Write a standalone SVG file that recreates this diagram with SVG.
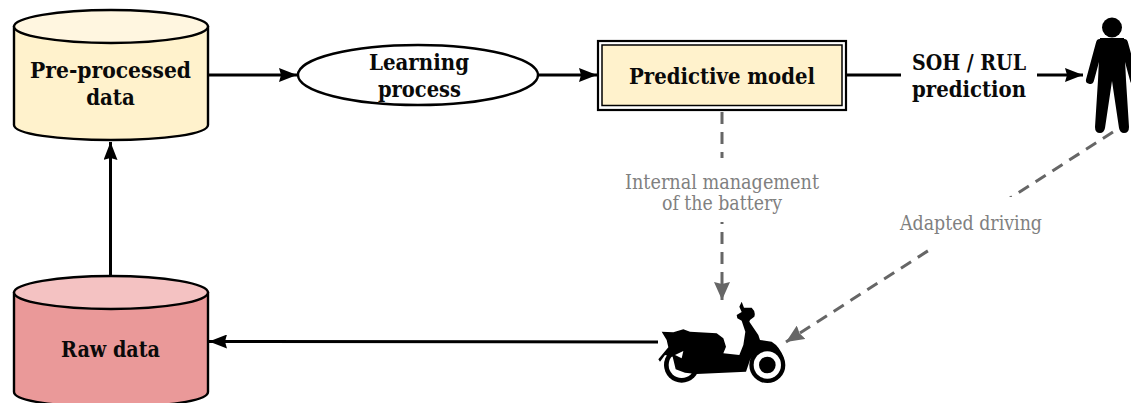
<svg xmlns="http://www.w3.org/2000/svg" width="1131" height="403" viewBox="0 0 1131 403">
<style>
text{font-family:"DejaVu Serif Condensed","DejaVu Serif","Liberation Serif",serif;text-anchor:middle}
.b{font-size:22px;font-weight:700;fill:#0a0a0a}
.g{font-size:19.500px;fill:#808080}
.s{stroke:#000;stroke-width:2.400}
.c{fill:none;stroke:#000;stroke-width:3}
.d{fill:none;stroke:#666;stroke-width:3;stroke-dasharray:12 8}
.k{fill:#000;stroke:none}
</style>
<defs>
<marker id="a" markerUnits="userSpaceOnUse" markerWidth="20" markerHeight="14" refX="18" refY="7" orient="auto"><path d="M0 0L18 7L0 14L2 7Z" fill="#000"/></marker>
<marker id="g" markerUnits="userSpaceOnUse" markerWidth="20" markerHeight="16" refX="18" refY="8" orient="auto"><path d="M0 0L18 8L0 16L2 8Z" fill="#666"/></marker>
</defs>
<rect width="1131" height="403" fill="#fff"/>
<g id="connectors">
<path class="c" d="M209 75H297" marker-end="url(#a)"/>
<path class="c" d="M538 75H597" marker-end="url(#a)"/>
<path class="c" d="M847 75H1083" marker-end="url(#a)"/>
<path class="c" d="M110.500 277V142" marker-end="url(#a)"/>
<path class="c" d="M658 342L209 341.500" marker-end="url(#a)"/>
<path class="d" d="M722 112V300" marker-end="url(#g)"/>
<path class="d" d="M1113 132L786 342" marker-end="url(#g)"/>
</g>
<g id="pre-processed">
<path class="s" fill="#fff2cc" d="M14 27V125C14 134 58 140 111 140S208 134 208 125V27Z"/>
<ellipse class="s" cx="111" cy="26.500" rx="97" ry="16.500" fill="#fff6e0"/>
<text class="b" x="110.500" y="78" textLength="161" lengthAdjust="spacingAndGlyphs">Pre-processed</text>
<text class="b" x="110.500" y="105">data</text>
</g>
<g id="learning">
<ellipse class="s" cx="418" cy="75" rx="120" ry="30" fill="#fff"/>
<text class="b" x="419" y="70" textLength="100" lengthAdjust="spacingAndGlyphs">Learning</text>
<text class="b" x="419.500" y="97" textLength="83" lengthAdjust="spacingAndGlyphs">process</text>
</g>
<g id="predictive">
<rect x="598" y="41" width="248" height="69" fill="#fff" stroke="#000" stroke-width="2.200"/>
<rect x="602" y="45" width="240" height="60.500" fill="#fff2cc" stroke="#000" stroke-width="1.500"/>
<text class="b" x="722" y="84" textLength="186" lengthAdjust="spacingAndGlyphs">Predictive model</text>
</g>
<g id="soh-label">
<rect x="901" y="45" width="136" height="60" fill="#fff"/>
<text class="b" x="969" y="70" textLength="114" lengthAdjust="spacingAndGlyphs">SOH / RUL</text>
<text class="b" x="969" y="97" textLength="114" lengthAdjust="spacingAndGlyphs">prediction</text>
</g>
<g id="internal-label">
<rect x="622" y="158" width="200" height="64" fill="#fff"/>
<text class="g" x="722" y="189" textLength="194" lengthAdjust="spacingAndGlyphs">Internal management</text>
<text class="g" x="722" y="210" textLength="120" lengthAdjust="spacingAndGlyphs">of the battery</text>
</g>
<g id="adapted-label">
<rect x="897" y="197" width="148" height="52" fill="#fff"/>
<text class="g" x="971" y="230" textLength="142" lengthAdjust="spacingAndGlyphs">Adapted driving</text>
</g>
<g id="raw">
<path class="s" fill="#ea9999" d="M14 293V392C14 401 58 407 111 407S208 401 208 392V293Z"/>
<ellipse class="s" cx="111" cy="292.500" rx="97" ry="16.500" fill="#f4c2c2"/>
<text class="b" x="110.500" y="357" textLength="99" lengthAdjust="spacingAndGlyphs">Raw data</text>
</g>
<g id="person">
<circle class="k" cx="1112" cy="27.500" r="10"/>
<path class="k" d="M1100 38H1124L1126 80L1129 127Q1129 133 1124 133Q1120 133 1119 128L1112 81L1105 128Q1104 133 1100 133Q1095 133 1095 127L1098 80Z"/>
<path d="M1100 43L1090 80M1124 43L1134 80" fill="none" stroke="#000" stroke-width="8" stroke-linecap="round"/>
</g>
<g id="scooter" transform="translate(640 290) scale(.33333)">
<circle class="k" cx="125" cy="225" r="53"/>
<circle cx="125" cy="225" r="39" fill="#fff"/>
<path class="k" d="M65 125L100 127L130 118L150 125L230 130L250 145L258 170L250 190L298 195L310 165L316 125L305 92L292 85L290 75L305 66L298 50L305 35L312 53L335 53Q348 65 343 80L330 90L328 95L355 135L360 150L395 155Q420 170 432 205Q410 178 380 175Q345 180 330 210L318 245L170 252L135 248L107 238L98 200L75 195L60 215L55 208L85 172L80 150Z"/>
<path d="M105 195L130 183L125 205Z" fill="#fff"/>
<circle class="k" cx="382" cy="225" r="54"/>
<circle cx="382" cy="225" r="41" fill="#fff"/>
<circle class="k" cx="382" cy="225" r="25"/>
</g>
</svg>
